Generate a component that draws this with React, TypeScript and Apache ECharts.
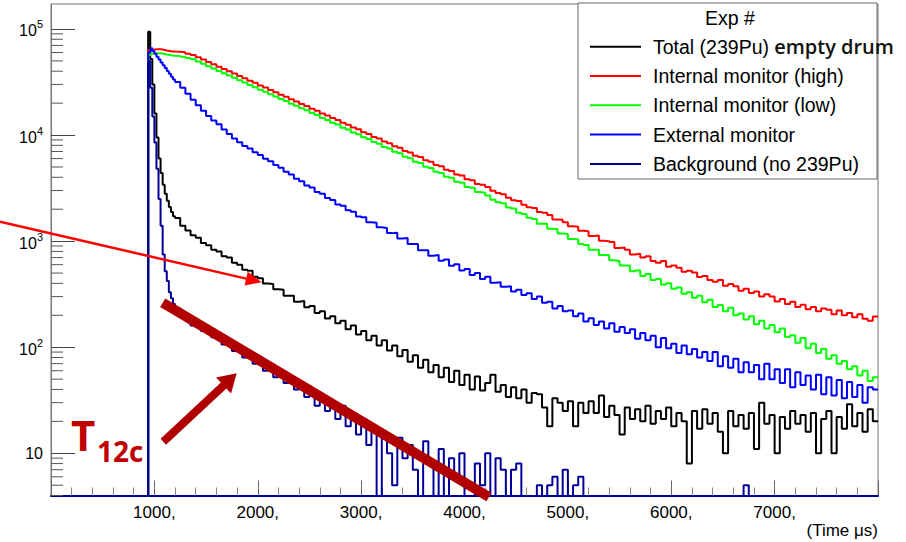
import React, { useEffect, useRef } from 'react';
import * as echarts from 'echarts';

// ---------- data (counts per bin) ----------
// Fine 20 µs bins over the pulse, then 50 µs bins up to 8000 µs
const fineBinStarts = [940, 960, 980, 1000, 1020, 1040, 1060, 1080, 1100, 1120, 1140, 1160, 1180];
const coarseFirst = 1200;
const coarseWidth = 50;
const lastEdge = 8000;
const preEdge = 900;

const totalEmptyDrum = [
  94000, 52000, 30000, 16000, 9500, 6000, 4400, 3400, 2800, 2400, 2100, 1880, 1720,
  1650, 1400, 1260, 1135, 1075, 960, 915, 830, 800, 720,
  700, 625, 600, 538, 525, 462, 448, 398, 395, 352,
  348, 305, 305, 268, 272, 238, 244, 210, 218, 186,
  196, 168, 178, 148, 160, 132, 142, 116, 128, 104,
  116, 93, 104, 82, 94, 73, 84, 64, 76, 58,
  68, 52, 64, 47, 60, 44, 55, 40, 53, 39,
  46, 55, 38, 44, 34, 42, 33, 40, 30, 37,
  36, 27, 18, 33, 30, 25, 31, 18, 30, 24,
  31, 24, 35, 22, 28, 23, 15, 27, 21, 26,
  20, 28, 19, 25, 21, 27, 18, 24, 20, 8,
  25, 17, 26, 19, 24, 16, 10, 25, 18, 23,
  17, 24, 11, 30, 19, 23, 10, 22, 17, 25,
  19, 23, 16, 24, 10, 21, 25, 10, 22, 17,
  29, 18, 24, 16, 26, 20,
];

const internalHigh = [
  63000, 63500, 64000, 64400, 64500, 64400, 64000, 63500, 62800, 62200, 61700, 61400, 61200,
  61100, 60200, 58500, 56950, 54000, 51500, 48850, 46500, 44100, 42050,
  39900, 38000, 36000, 34350, 32550, 31050, 29400, 28050, 26550, 25350,
  24000, 22950, 21700, 20750, 19600, 18750, 17700, 16950, 15980, 15300,
  14450, 13850, 13050, 12500, 11780, 11320, 10650, 10250, 9600, 9260,
  8690, 8380, 7850, 7580, 7090, 6850, 6380, 6200, 5780, 5600,
  5220, 5080, 4700, 4580, 4250, 4150, 3830, 3750, 3460, 3400,
  3230, 2990, 2850, 2760, 2560, 2430, 2390, 2200, 2090, 2050,
  1880, 1850, 1760, 1600, 1590, 1510, 1380, 1370, 1250, 1240,
  1120, 1130, 1010, 1000, 980, 860, 870, 830, 750, 760,
  700, 720, 650, 625, 650, 575, 590, 560, 515, 525,
  505, 460, 470, 430, 415, 430, 380, 395, 375, 340,
  355, 325, 335, 300, 315, 300, 270, 285, 255, 268,
  240, 252, 228, 240, 218, 232, 225, 205, 222, 200,
  210, 192, 205, 185, 178, 195,
];

const internalLow = [
  57000, 58300, 58700, 59000, 59100, 59000, 58700, 58200, 57600, 57100, 56600, 56200, 55900,
  55700, 54850, 53400, 51900, 49300, 46950, 44550, 42400, 40250, 38350,
  36350, 34650, 32850, 31300, 29700, 28300, 26800, 25600, 24200, 23150,
  21900, 20900, 19750, 18900, 17850, 17100, 16100, 15450, 14500, 13900,
  13050, 12550, 11750, 11300, 10600, 10200, 9520, 9180, 8580, 8280,
  7720, 7460, 6950, 6720, 6240, 6060, 5610, 5450, 5040, 4900,
  4520, 4400, 4050, 3960, 3620, 3560, 3240, 3190, 2900, 2860,
  2700, 2460, 2330, 2280, 2070, 2030, 1850, 1800, 1660, 1620,
  1460, 1460, 1310, 1300, 1180, 1170, 1050, 1040, 940, 920,
  830, 830, 740, 735, 660, 650, 590, 590, 520, 530,
  470, 490, 430, 440, 390, 400, 355, 365, 320, 330,
  292, 305, 265, 280, 240, 250, 218, 235, 200, 208,
  182, 196, 165, 178, 150, 162, 138, 150, 125, 130,
  110, 122, 98, 108, 88, 96, 78, 84, 70, 74,
  62, 66, 54, 60, 48, 52,
];

const externalMonitor = [
  60000, 66000, 62000, 58300, 54800, 51500, 48400, 45500, 42800, 40200, 37800, 35500, 33400,
  31600, 27850, 24550, 21550, 19150, 16950, 15150, 13750, 12650, 11300,
  10250, 9280, 8550, 7900, 7450, 6880, 6500, 5990, 5660, 5220,
  4930, 4510, 4250, 3870, 3670, 3350, 3200, 2910, 2790, 2550,
  2440, 2220, 2150, 1950, 1890, 1710, 1680, 1510, 1490, 1350,
  1330, 1190, 1200, 1060, 1070, 940, 940, 820, 820, 730,
  740, 655, 670, 585, 605, 530, 545, 480, 500, 440,
  462, 405, 410, 372, 375, 336, 348, 310, 322, 285,
  300, 262, 268, 232, 245, 218, 222, 196, 208, 175,
  188, 162, 175, 150, 168, 140, 155, 136, 148, 120,
  136, 116, 128, 100, 122, 98, 108, 88, 104, 86,
  96, 80, 90, 74, 90, 66, 82, 64, 78, 58,
  72, 58, 68, 50, 70, 50, 62, 46, 62, 42,
  58, 44, 54, 40, 55, 36, 52, 35, 49, 33,
  47, 34, 44, 30, 42, 40,
];

const backgroundNoPu = [
  50000, 28000, 15000, 8500, 4800, 2500, 1400, 750, 520, 420, 330, 290, 255,
  232, 196, 182, 160, 162, 142, 140, 124, 126, 106,
  110, 92, 96, 80, 84, 70, 74, 60, 66, 52,
  58, 46, 51, 40, 45, 34, 40, 28, 35, 25,
  31, 21, 28, 18, 24, 15, 21, 12, 18, 0,
  16, 10, 5, 14, 9, 12, 7, 0, 13, 8,
  0, 11, 0, 9, 6, 10, 0, 0, 8, 5,
  10, 0, 9, 7, 0, 7, 8, 0, 0, 0,
  5, 0, 5, 6, 0, 7, 0, 5, 6, 0,
  0, 0, 0, 0, 0, 0, 0, 0, 0, 0,
  0, 0, 0, 0, 0, 0, 0, 0, 0, 0,
  0, 0, 0, 0, 0, 0, 0, 0, 0, 0,
  5, 0, 0, 0, 0, 0, 0, 0, 0, 0,
  0, 0, 0, 0, 0, 0, 0, 0, 0, 0,
  0, 0, 0, 0, 0, 0,
];

const seriesNames = [
  'Total (239Pu) empty drum',
  'Internal monitor (high)',
  'Internal monitor (low)',
  'External monitor',
  'Background (no 239Pu)',
];
const seriesColors = ['#000000', '#ff0000', '#00ff00', '#0000ff', '#000099'];
const seriesValues = [totalEmptyDrum, internalHigh, internalLow, externalMonitor, backgroundNoPu];

const yMinorTicks = [
  4, 5, 6, 7, 8, 9,
  20, 30, 40, 50, 60, 70, 80, 90,
  200, 300, 400, 500, 600, 700, 800, 900,
  2000, 3000, 4000, 5000, 6000, 7000, 8000, 9000,
  20000, 30000, 40000, 50000, 60000, 70000, 80000, 90000,
];

const X_MIN = 0;
const X_MAX = 8000;
const Y_MIN = 4;
const Y_MAX = 172000;
const ZERO_LEVEL = 1; // empty bins fall below the log axis

const FONT = '"Liberation Sans", Arial, Helvetica, sans-serif';
const DARK_RED = '#b00000';

function binStarts(): number[] {
  const n = Math.round((lastEdge - coarseFirst) / coarseWidth);
  const coarse: number[] = [];
  for (let i = 0; i < n; i++) coarse.push(coarseFirst + i * coarseWidth);
  return [...fineBinStarts, ...coarse];
}

function toSteps(values: number[]): number[][] {
  const starts = binStarts();
  const n = Math.min(values.length, starts.length);
  const pts: number[][] = [[preEdge, ZERO_LEVEL]];
  for (let i = 0; i < n; i++) pts.push([starts[i], values[i] > 0 ? values[i] : ZERO_LEVEL]);
  const last = values[n - 1];
  pts.push([lastEdge, last > 0 ? last : ZERO_LEVEL]);
  return pts;
}

function buildOption(): any {
  const lineSeries = seriesNames.map((name, i) => ({
    name,
    type: 'line',
    step: 'end',
    data: toSteps(seriesValues[i]),
    showSymbol: false,
    symbol: 'none',
    clip: true,
    silent: true,
    color: seriesColors[i],
    lineStyle: { color: seriesColors[i], width: 2 },
    emphasis: { disabled: true },
    z: 2,
  }));

  const minorTickSeries = {
    type: 'custom',
    name: 'yMinorTicks',
    silent: true,
    data: yMinorTicks.map((v) => [X_MIN, v]),
    renderItem: (_params: any, api: any) => {
      const p = api.coord([api.value(0), api.value(1)]);
      return {
        type: 'line',
        shape: { x1: p[0], y1: p[1], x2: p[0] + 12, y2: p[1] },
        style: { stroke: '#555', lineWidth: 1 },
      };
    },
    z: 3,
  };

  // annotation geometry (overlay drawn on the figure)
  const thinTip = [261.7, 282.2];
  const thinTail = [0, 221.7];
  const tdx = thinTip[0] - thinTail[0];
  const tdy = thinTip[1] - thinTail[1];
  const tl = Math.hypot(tdx, tdy);
  const tu = [tdx / tl, tdy / tl];
  const tn = [-tu[1], tu[0]];
  const tHead = 16;
  const tHalf = 7;
  const tBase = [thinTip[0] - tHead * tu[0], thinTip[1] - tHead * tu[1]];

  const fatTip = [236.7, 373.3];
  const fatTail = [163.3, 441.7];
  const fdx = fatTip[0] - fatTail[0];
  const fdy = fatTip[1] - fatTail[1];
  const fl = Math.hypot(fdx, fdy);
  const fu = [fdx / fl, fdy / fl];
  const fn = [-fu[1], fu[0]];
  const fHead = 18;
  const fHalf = 11;
  const fBase = [fatTip[0] - fHead * fu[0], fatTip[1] - fHead * fu[1]];

  return {
    animation: false,
    backgroundColor: '#ffffff',
    textStyle: { fontFamily: FONT },
    grid: {
      left: 51,
      right: 28,
      top: 4,
      bottom: 46.5,
      show: true,
      borderColor: '#777',
      borderWidth: 1,
      backgroundColor: 'transparent',
    },
    xAxis: {
      type: 'value',
      min: X_MIN,
      max: X_MAX,
      interval: 1000,
      axisLine: { show: true, onZero: false, lineStyle: { color: '#000099', width: 2 } },
      axisTick: { show: true, inside: true, length: 15, lineStyle: { color: '#666', width: 1 } },
      minorTick: { show: true, splitNumber: 5, length: 8, lineStyle: { color: '#888', width: 1 } },
      splitLine: { show: false },
      axisLabel: {
        margin: 8,
        color: '#000',
        fontFamily: FONT,
        fontSize: 17,
        formatter: (v: number) => (v > X_MIN && v < X_MAX ? `${v},` : ''),
      },
      name: '(Time μs)',
      nameLocation: 'end',
      nameGap: 0,
      nameTextStyle: {
        fontFamily: FONT,
        fontSize: 17,
        color: '#000',
        align: 'right',
        verticalAlign: 'top',
        padding: [26, 0, 0, 0],
      },
    },
    yAxis: {
      type: 'log',
      logBase: 10,
      min: Y_MIN,
      max: Y_MAX,
      axisLine: { show: true, lineStyle: { color: '#777', width: 1 } },
      axisTick: { show: true, inside: true, length: 24, lineStyle: { color: '#444', width: 1 } },
      minorTick: { show: false },
      splitLine: { show: false },
      axisLabel: {
        margin: 8,
        showMinLabel: false,
        showMaxLabel: false,
        formatter: (v: number) => {
          const l = Math.log10(v);
          const e = Math.round(l);
          if (Math.abs(l - e) > 1e-6) return '';
          return e === 1 ? '{b|10}' : `{b|10}{s|${e}}`;
        },
        rich: {
          b: { fontFamily: FONT, fontSize: 16, color: '#000', verticalAlign: 'bottom' },
          s: { fontFamily: FONT, fontSize: 11, color: '#000', verticalAlign: 'bottom', padding: [0, 0, 9, 0] },
        },
      },
    },
    legend: {
      data: seriesNames,
      orient: 'vertical',
      left: 590,
      top: 36.7,
      padding: 0,
      itemWidth: 51,
      itemHeight: 2,
      itemGap: 9.3,
      icon: 'rect',
      selectedMode: false,
      z: 6,
      formatter: (name: string) =>
        name.startsWith('Total') ? '{n|Total (239Pu)}{e| empty drum}' : `{n|${name}}`,
      textStyle: {
        color: '#000',
        fontFamily: FONT,
        fontSize: 19.5,
        lineHeight: 20,
        rich: {
          n: { fontFamily: FONT, fontSize: 19.5, lineHeight: 20, color: '#000', padding: [0, 0, 0, 7] },
          e: { fontFamily: '"Open Sans", sans-serif', fontWeight: 600, fontSize: 20, lineHeight: 20, color: '#111' },
        },
      },
    },
    graphic: {
      elements: [
        {
          type: 'rect',
          z: 5,
          shape: { x: 578, y: 3, width: 299, height: 176 },
          style: { fill: '#ffffff', stroke: '#666', lineWidth: 1 },
          silent: true,
        },
        {
          type: 'text',
          z: 6,
          x: 730,
          y: 18,
          style: {
            text: 'Exp #',
            fontFamily: FONT,
            fontSize: 19.5,
            fill: '#000',
            textAlign: 'center',
            textVerticalAlign: 'middle',
          },
          silent: true,
        },
        // thin red arrow
        {
          type: 'line',
          z: 20,
          shape: { x1: thinTail[0], y1: thinTail[1], x2: tBase[0], y2: tBase[1] },
          style: { stroke: '#ff0000', lineWidth: 2.5 },
          silent: true,
        },
        {
          type: 'polygon',
          z: 20,
          shape: {
            points: [
              thinTip,
              [tBase[0] + tHalf * tn[0], tBase[1] + tHalf * tn[1]],
              [tBase[0] - tHalf * tn[0], tBase[1] - tHalf * tn[1]],
            ],
          },
          style: { fill: '#ff0000' },
          silent: true,
        },
        // thick dark-red trend line
        {
          type: 'line',
          z: 20,
          shape: { x1: 162.7, y1: 302.7, x2: 489, y2: 497 },
          style: { stroke: DARK_RED, lineWidth: 10 },
          silent: true,
        },
        // thick dark-red arrow
        {
          type: 'line',
          z: 20,
          shape: { x1: fatTail[0], y1: fatTail[1], x2: fBase[0] + 2 * fu[0], y2: fBase[1] + 2 * fu[1] },
          style: { stroke: DARK_RED, lineWidth: 8 },
          silent: true,
        },
        {
          type: 'polygon',
          z: 20,
          shape: {
            points: [
              fatTip,
              [fBase[0] + fHalf * fn[0], fBase[1] + fHalf * fn[1]],
              [fBase[0] - fHalf * fn[0], fBase[1] - fHalf * fn[1]],
            ],
          },
          style: { fill: DARK_RED },
          silent: true,
        },
        {
          type: 'text',
          z: 20,
          x: 71,
          y: 434,
          style: {
            text: 'T',
            fontFamily: '"Open Sans", sans-serif',
            fontWeight: 'bold',
            fontSize: 42,
            fill: '#c00000',
            textAlign: 'left',
            textVerticalAlign: 'middle',
          },
          silent: true,
        },
        {
          type: 'text',
          z: 20,
          x: 97,
          y: 451,
          style: {
            text: '12c',
            fontFamily: '"Open Sans", sans-serif',
            fontWeight: 'bold',
            fontSize: 28,
            fill: '#c00000',
            textAlign: 'left',
            textVerticalAlign: 'middle',
          },
          silent: true,
        },
      ],
    },
    series: [...lineSeries, minorTickSeries],
  };
}

export default function App() {
  const ref = useRef<HTMLDivElement>(null);
  useEffect(() => {
    if (!ref.current) return;
    const chart = echarts.init(ref.current, null, { renderer: 'svg' });
    chart.setOption(buildOption());
    return () => {
      chart.dispose();
    };
  }, []);
  return (
    <div
      ref={ref}
      style={{ position: 'fixed', left: 0, top: 0, width: 906, height: 542, background: '#fff' }}
    />
  );
}
